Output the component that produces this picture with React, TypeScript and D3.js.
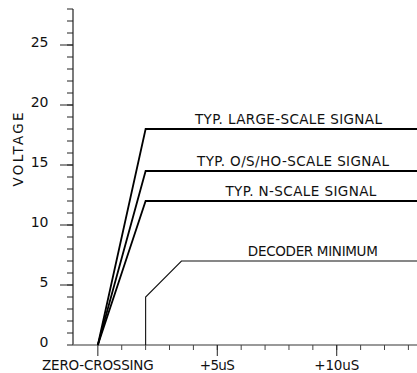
import React from "react";
import * as d3 from "d3";

const W = 417;
const H = 373;

// Data (time in microseconds, voltage in volts)
const signalNames = ["TYP. LARGE-SCALE SIGNAL", "TYP. O/S/HO-SCALE SIGNAL", "TYP. N-SCALE SIGNAL"];
const signalPeaks = [18, 14.5, 12];
const signalTimes = [0, 2, 13.4];
const signalLabelTimes = [7.98, 8.17, 8.5];

const decoderName = "DECODER MINIMUM";
const decoderTimes = [2, 2, 3.5, 13.4];
const decoderVolts = [0, 4, 7, 7];
const decoderLabelTime = 9.0;

const yMajorTicks = [5, 10, 15, 20, 25];
const yTickLabels = [0, 5, 10, 15, 20, 25];
const yMinorTicks = d3.range(0, 29);
const xMinorTicks = d3.range(1, 14);
const xMajorTicks = [0, 5, 10];
const xTickLabels = ["ZERO-CROSSING", "+5uS", "+10uS"];

const FONT = "'DejaVu Sans', Verdana, sans-serif";
// measured text widths (layout only)
const signalLabelWidths = [187, 192, 151];
const decoderLabelWidth = 130;
const xLabelWidths = [111.5, 35, 45];

export default function App() {
  const x = d3.scaleLinear().domain([-1.04, 13.36]).range([73, 417]);
  const y = d3.scaleLinear().domain([0, 28]).range([345, 9]);
  const line = d3
    .line<[number, number]>()
    .x((d) => x(d[0]))
    .y((d) => y(d[1]));

  const axisX = x(-1.04);
  const axisY = y(0);

  return (
    <svg
      width={W}
      height={H}
      style={{ position: "absolute", left: 0, top: 0, background: "#fff" }}
      fontFamily={FONT}
      fontSize={13.5}
    >
      {/* Y axis */}
      <line x1={axisX} x2={axisX} y1={y(28)} y2={axisY} stroke="#222" strokeWidth={1.2} />
      {yMinorTicks.map((v) => (
        <line key={"ym" + v} x1={axisX - 6} x2={axisX} y1={y(v)} y2={y(v)} stroke="#222" strokeWidth={1} />
      ))}
      {yMajorTicks.map((v) => (
        <line key={"yM" + v} x1={axisX - 13} x2={axisX} y1={y(v)} y2={y(v)} stroke="#222" strokeWidth={1} />
      ))}
      {yTickLabels.map((v) => (
        <text key={"yl" + v} x={48.5} y={y(v) + 1.5} textAnchor="end" fill="#111" fontSize={14}>
          {v}
        </text>
      ))}
      <text
        transform={`translate(23,149.5) rotate(-90)`}
        textAnchor="middle"
        fill="#111"
        fontSize={13.5}
        textLength={74}
        lengthAdjust="spacing"
      >
        VOLTAGE
      </text>

      {/* X axis */}
      <line x1={axisX} x2={W} y1={axisY} y2={axisY} stroke="#777" strokeWidth={1.5} />
      {xMinorTicks.map((v) => (
        <line key={"xm" + v} x1={x(v)} x2={x(v)} y1={axisY} y2={axisY + 5} stroke="#444" strokeWidth={1} />
      ))}
      {xMajorTicks.map((v) => (
        <line key={"xM" + v} x1={x(v)} x2={x(v)} y1={axisY} y2={axisY + 11} stroke="#222" strokeWidth={1} />
      ))}
      {xMajorTicks.map((v, i) => (
        <text
          key={"xl" + v}
          x={x(v)}
          y={369.5}
          textAnchor="middle"
          fill="#111"
          textLength={xLabelWidths[i]}
          lengthAdjust="spacing"
        >
          {xTickLabels[i]}
        </text>
      ))}

      {/* Signal lines */}
      {signalPeaks.map((p, i) => {
        const pts: [number, number][] = signalTimes.map((t, j) => [t, j === 0 ? 0 : p]);
        return (
          <g key={"s" + i}>
            <path d={line(pts) || ""} fill="none" stroke="#000" strokeWidth={1.8} strokeLinejoin="miter" />
            <text
              x={x(signalLabelTimes[i])}
              y={y(p) - 5}
              textAnchor="middle"
              fill="#111"
              textLength={signalLabelWidths[i]}
              lengthAdjust="spacing"
            >
              {signalNames[i]}
            </text>
          </g>
        );
      })}

      {/* Decoder minimum */}
      <path
        d={line(decoderTimes.map((t, i) => [t, decoderVolts[i]] as [number, number])) || ""}
        fill="none"
        stroke="#111"
        strokeWidth={1.1}
      />
      <text
        x={x(decoderLabelTime)}
        y={y(7) - 5}
        textAnchor="middle"
        fill="#111"
        textLength={decoderLabelWidth}
        lengthAdjust="spacing"
      >
        {decoderName}
      </text>
    </svg>
  );
}
